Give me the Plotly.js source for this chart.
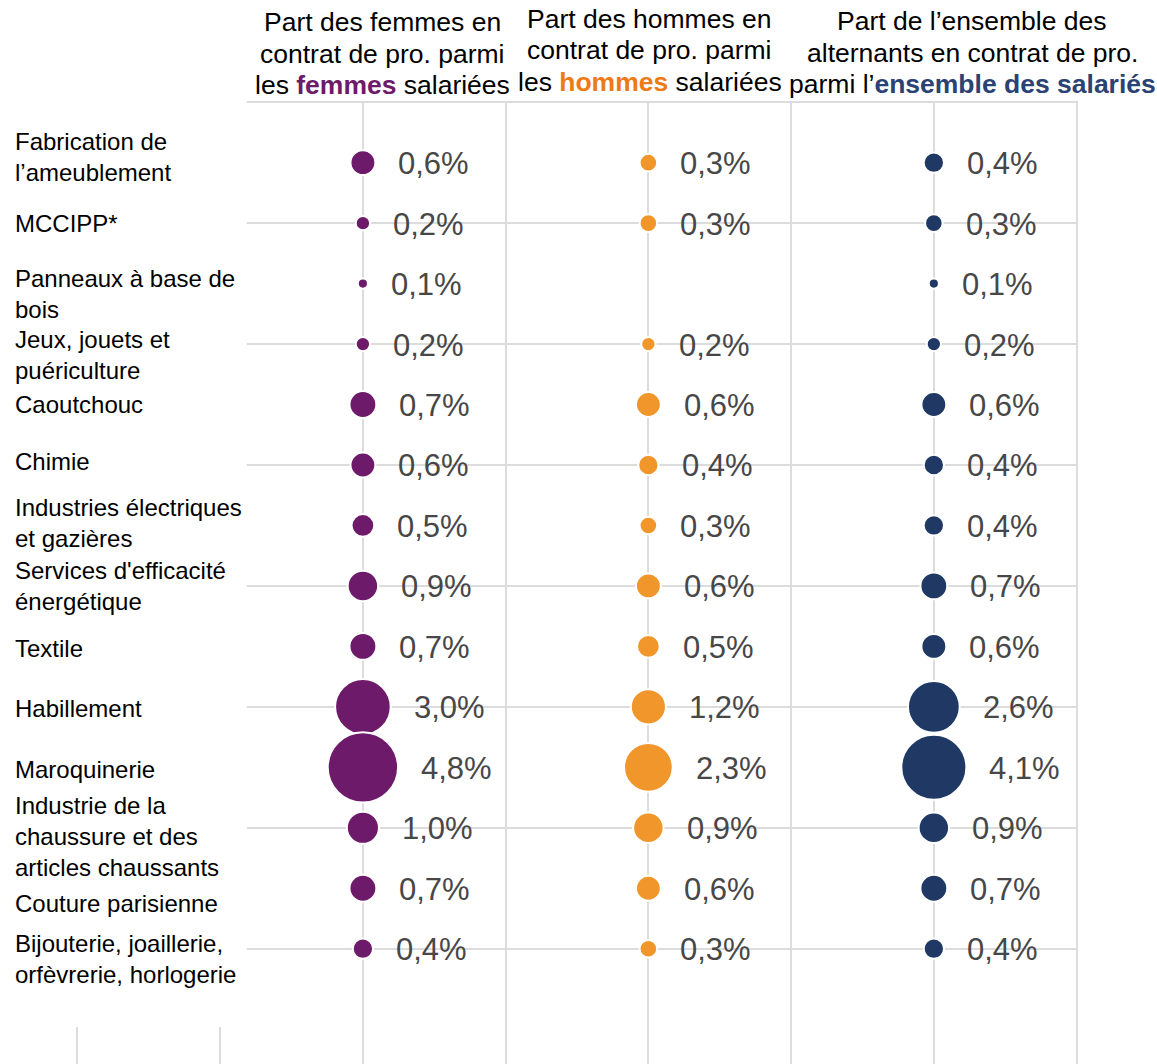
<!DOCTYPE html>
<html>
<head>
<meta charset="utf-8">
<script src="https://cdn.plot.ly/plotly-3.0.1.min.js"></script>
<style>html,body{margin:0;padding:0;background:#fff;}#chart{width:1157px;height:1064px;}</style>
</head>
<body>
<div id="chart"></div>
<script>
// ---- Data ----
const categories = [
  "Fabrication de<br>l’ameublement",
  "MCCIPP*",
  "Panneaux à base de<br>bois",
  "Jeux, jouets et<br>puériculture",
  "Caoutchouc",
  "Chimie",
  "Industries électriques<br>et gazières",
  "Services d'efficacité<br>énergétique",
  "Textile",
  "Habillement",
  "Maroquinerie",
  "Industrie de la<br>chaussure et des<br>articles chaussants",
  "Couture parisienne",
  "Bijouterie, joaillerie,<br>orfèvrerie, horlogerie"
];
const femmes   = [0.6, 0.2, 0.1, 0.2, 0.7, 0.6, 0.5, 0.9, 0.7, 3.0, 4.8, 1.0, 0.7, 0.4];
const hommes   = [0.3, 0.3, null, 0.2, 0.6, 0.4, 0.3, 0.6, 0.5, 1.2, 2.3, 0.9, 0.6, 0.3];
const ensemble = [0.4, 0.3, 0.1, 0.2, 0.6, 0.4, 0.4, 0.7, 0.6, 2.6, 4.1, 0.9, 0.7, 0.4];
const titleFemmes = ["Part des femmes en", "contrat de pro. parmi",
  "les <b><span style='color:#6E1A6B'>femmes</span></b> salariées"];
const titleHommes = ["Part des hommes en", "contrat de pro. parmi",
  "les <b><span style='color:#EE7A16'>hommes</span></b> salariées"];
const titleEnsemble = ["Part de l’ensemble des", "alternants en contrat de pro.",
  "parmi l’<b><span style='color:#2B4275'>ensemble des salariés</span></b>"];

// ---- Styling ----
const FONT = "Liberation Sans, Arial, sans-serif";
const colors = ["#6E1A6B", "#F0962A", "#1F3864"];
const colX = [2, 4, 6];
const titleX = [2.135, 4.01, 6.27];
const titleTop = [22, 18.5, 21];      // px centre of first title line
const titleLineGap = 31.5;
const labelShift = [-6, 0, 10, 11, 0, -3, -2, 0, 2, 2, 2, 9, 15, 10];
const SIZEREF = 0.001939;
const PLOT_TOP = 101;
const rows = categories.map((c, i) => i);
const radius = v => Math.sqrt(v / 2 / SIZEREF);
const fmt = v => v.toFixed(1).replace('.', ',') + '%';

const allSeries = [femmes, hommes, ensemble];
const traces = allSeries.map((vals, s) => {
  const idx = rows.filter(i => vals[i] !== null);
  return {
    type: 'scatter', mode: 'markers',
    x: idx.map(() => colX[s]),
    y: idx,
    marker: {
      size: idx.map(i => vals[i]), sizemode: 'area', sizeref: SIZEREF,
      color: colors[s], opacity: 1, line: {color: '#ffffff', width: 2}
    },
    cliponaxis: false, hoverinfo: 'skip', showlegend: false
  };
});

const annotations = [];
allSeries.forEach((vals, s) => {
  rows.forEach(i => {
    if (vals[i] === null) return;
    annotations.push({
      x: colX[s], y: i, xref: 'x', yref: 'y',
      text: fmt(vals[i]), showarrow: false,
      xanchor: 'left', yanchor: 'middle',
      xshift: radius(vals[i]) + 21, yshift: -1,
      font: {family: FONT, size: 31, color: '#474747'}
    });
  });
});
categories.forEach((c, i) => {
  annotations.push({
    x: -0.0625, y: i, xref: 'paper', yref: 'y',
    text: c, showarrow: false, xanchor: 'left', yanchor: 'middle', align: 'left',
    yshift: -labelShift[i],
    font: {family: FONT, size: 24, color: '#000000'}
  });
});
[titleFemmes, titleHommes, titleEnsemble].forEach((lines, s) => {
  lines.forEach((t, k) => {
    annotations.push({
      x: titleX[s], y: 1, xref: 'x', yref: 'paper',
      text: t, showarrow: false, xanchor: 'center', yanchor: 'middle', align: 'center',
      yshift: PLOT_TOP - (titleTop[s] + k * titleLineGap),
      font: {family: FONT, size: 26.5, color: '#000000'}
    });
  });
});

const layout = {
  width: 1157, height: 1064,
  margin: {l: 76, r: 79, t: PLOT_TOP, b: 0, pad: 0},
  paper_bgcolor: '#ffffff', plot_bgcolor: '#ffffff',
  showlegend: false,
  font: {family: FONT},
  xaxis: {
    range: [-0.01, 7.01], tickvals: [0, 1, 2, 3, 4, 5, 6, 7],
    showgrid: true, gridcolor: '#dcdcdc', gridwidth: 2,
    showticklabels: false, zeroline: false, showline: false, ticks: ''
  },
  yaxis: {
    range: [14.907, -1.02], tickvals: [-1, 1, 3, 5, 7, 9, 11, 13],
    showgrid: true, gridcolor: '#dcdcdc', gridwidth: 2,
    showticklabels: false, zeroline: false, showline: false, ticks: ''
  },
  shapes: [{
    type: 'rect', xref: 'x', yref: 'y', layer: 'above',
    x0: -1, x1: 1.186, y0: -2, y1: 14.295,
    fillcolor: '#ffffff', line: {width: 0}
  }],
  annotations: annotations
};

Plotly.newPlot('chart', traces, layout, {displayModeBar: false, staticPlot: true});
</script>
</body>
</html>
